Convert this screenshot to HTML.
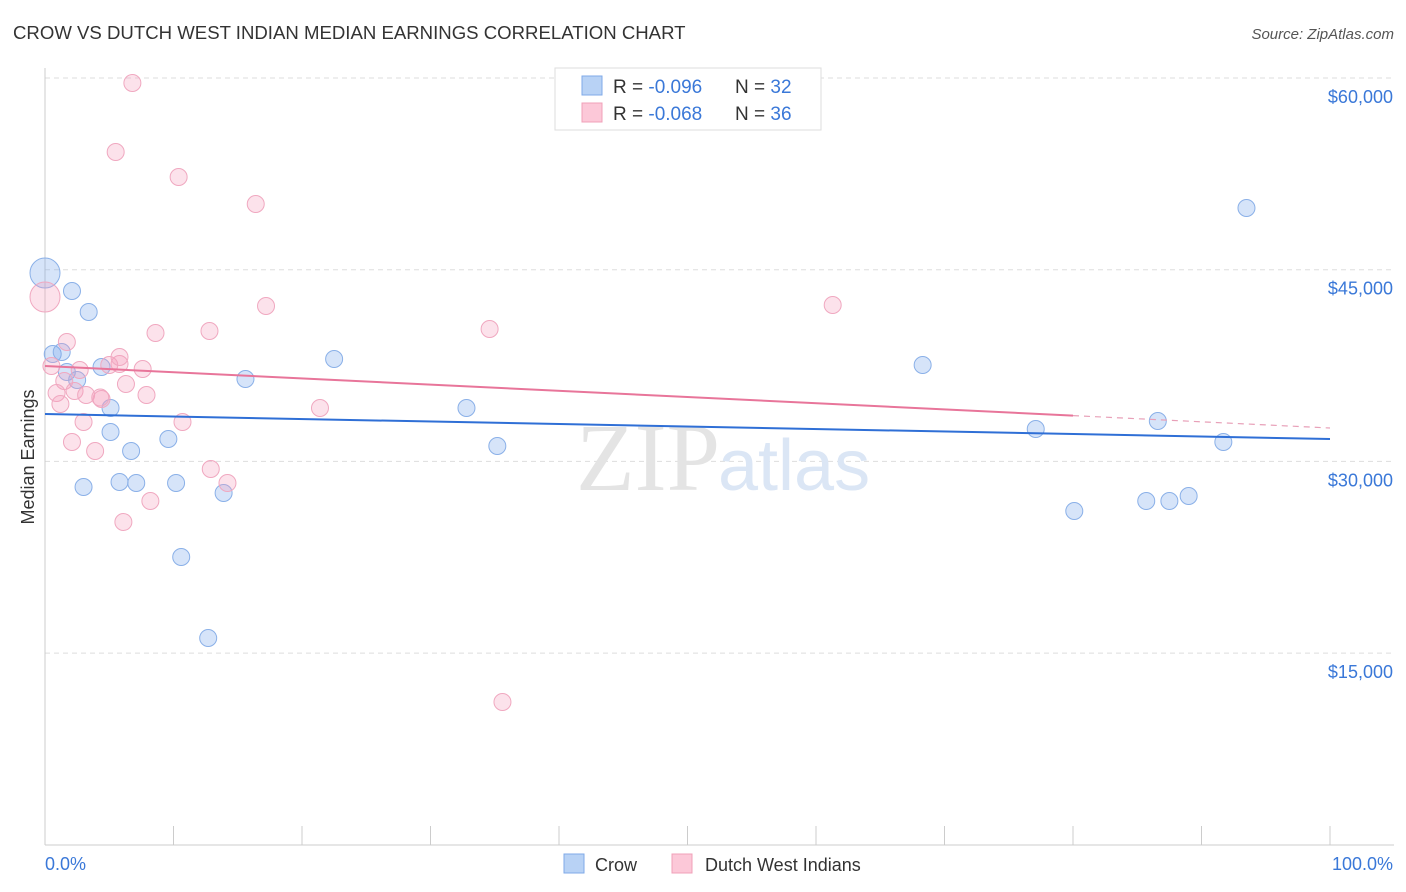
<!DOCTYPE html>
<html><head><meta charset="utf-8"><style>
body{margin:0;background:#fff;font-family:"Liberation Sans",sans-serif;}
svg{display:block}
</style></head><body>
<svg id="chart" width="1406" height="892" xmlns="http://www.w3.org/2000/svg">
<text x="13" y="39" font-size="18.6" fill="#333">CROW VS DUTCH WEST INDIAN MEDIAN EARNINGS CORRELATION CHART</text>
<text x="1394" y="39" font-size="15" fill="#555" font-style="italic" text-anchor="end">Source: ZipAtlas.com</text>
<g id="grid"></g>
<g id="axes"></g>
<text x="720" y="490" font-size="96" fill="#e4e4e4" text-anchor="end" font-family="Liberation Serif, serif">ZIP</text>
<text x="718" y="490" font-size="72" fill="#dbe6f5">atlas</text>
<g id="pts"></g>
<g id="lines"></g>
<text transform="translate(34,457) rotate(-90)" font-size="18" fill="#333" text-anchor="middle">Median Earnings</text>
<text x="45" y="870" font-size="18" fill="#3a78d8">0.0%</text>
<text x="1393" y="870" font-size="18" fill="#3a78d8" text-anchor="end">100.0%</text>
<g>
<rect x="555" y="68" width="266" height="62" fill="#fff" stroke="#ddd"/>
<rect x="582" y="76" width="20" height="19" fill="#b8d2f5" stroke="#7faae8"/>
<rect x="582" y="103" width="20" height="19" fill="#fcc8d8" stroke="#f0a0b8"/>
<text x="613" y="93" font-size="19" fill="#333">R = <tspan fill="#3a78d8">-0.096</tspan></text>
<text x="735" y="93" font-size="19" fill="#333">N = <tspan fill="#3a78d8">32</tspan></text>
<text x="613" y="120" font-size="19" fill="#333">R = <tspan fill="#3a78d8">-0.068</tspan></text>
<text x="735" y="120" font-size="19" fill="#333">N = <tspan fill="#3a78d8">36</tspan></text>
</g>
<g>
<rect x="564" y="854" width="20" height="19" fill="#b8d2f5" stroke="#7faae8"/>
<text x="595" y="871" font-size="18" fill="#333">Crow</text>
<rect x="672" y="854" width="20" height="19" fill="#fcc8d8" stroke="#f0a0b8"/>
<text x="705" y="871" font-size="18" fill="#333">Dutch West Indians</text>
</g>
</svg>
<script>
const yTicks=[60000,45000,30000,15000];
const yTickLabels=["$60,000","$45,000","$30,000","$15,000"];
const crowX=[0,2.1,3.4,0.6,1.3,1.7,2.5,4.4,5.1,5.1,6.7,3.0,5.8,7.1,9.6,10.2,10.6,13.9,12.7,15.6,22.5,32.8,35.2,68.3,77.1,80.1,85.7,87.5,89.0,86.6,91.7,93.5];
const crowY=[44741,43333,41689,38403,38559,36994,36368,37386,34177,32299,30813,27996,28387,28309,31752,28309,22518,27526,16180,36447,38012,34177,31204,37542,32534,26118,26900,26900,27291,33160,31517,49827];
const dwiX=[0,6.8,5.5,10.4,16.4,17.2,12.8,8.6,1.7,0.5,1.5,2.7,5.8,5.0,5.8,7.6,6.3,0.9,2.3,3.2,4.4,7.9,1.2,3.0,2.1,3.9,10.7,21.4,34.6,61.3,12.9,14.2,8.2,6.1,35.6,4.3];
const dwiY=[42863,59609,54209,52253,50140,42159,40203,40046,39342,37464,36290,37151,37620,37542,38168,37229,36055,35351,35508,35195,34882,35195,34490,33082,31517,30813,33082,34177,40359,42237,29404,28309,26900,25257,11172,35000];
const crowTrend=[33708,31752];
const dwiTrend=[37464,32613];
const NS="http://www.w3.org/2000/svg";
const sx=p=>45+p*12.85;
const sy=v=>78+(60000-v)*191.7/15000;
function mk(tag,attrs,parent){const e=document.createElementNS(NS,tag);for(const k in attrs)e.setAttribute(k,attrs[k]);parent.appendChild(e);return e;}
const grid=document.getElementById('grid');
yTicks.forEach((t,i)=>{
 const l=mk('line',{x1:45,x2:1394,y1:sy(t),y2:sy(t),stroke:'#ddd','stroke-dasharray':'5,4'},grid);
 
 
 const tx=mk('text',{x:1393,y:sy(t)+25,'font-size':18,fill:'#3a78d8','text-anchor':'end'},grid);
 tx.textContent=yTickLabels[i];
 
 
});
const axes=document.getElementById('axes');
const ya=mk('line',{x1:45,x2:45,y1:68,y2:845,stroke:'#ccc'},axes);


const xa=mk('line',{x1:45,x2:1394,y1:845,y2:845,stroke:'#ccc'},axes);


for(let i=0;i<=10;i++){const t=mk('line',{x1:sx(i*10),x2:sx(i*10),y1:826,y2:845,stroke:'#ccc'},axes);
 
 }
const pts=document.getElementById('pts');
function dots(X,Y,fill,stroke,name){X.forEach((x,i)=>{const big=(x===0);
 const c=mk('circle',{cx:sx(x),cy:sy(Y[i]),r:big?15:8.5,fill:fill,stroke:stroke,'stroke-width':1},pts);
 
 });}
dots(crowX,crowY,'rgba(120,165,235,0.3)','#8ab0e8','crow-point');
dots(dwiX,dwiY,'rgba(245,160,190,0.3)','#f0a8c0','dwi-point');
const lines=document.getElementById('lines');
const bl=mk('line',{x1:sx(0),y1:sy(crowTrend[0]),x2:sx(100),y2:sy(crowTrend[1]),stroke:'#2f6fd6','stroke-width':2},lines);


const mid=dwiTrend[0]+(dwiTrend[1]-dwiTrend[0])*0.8;
const pl=mk('line',{x1:sx(0),y1:sy(dwiTrend[0]),x2:sx(80),y2:sy(mid),stroke:'#e8759a','stroke-width':2},lines);


const pd=mk('line',{x1:sx(80),y1:sy(mid),x2:sx(100),y2:sy(dwiTrend[1]),stroke:'#e8a0b8','stroke-width':1.2,'stroke-dasharray':'6,5'},lines);


</script>
</body></html>
